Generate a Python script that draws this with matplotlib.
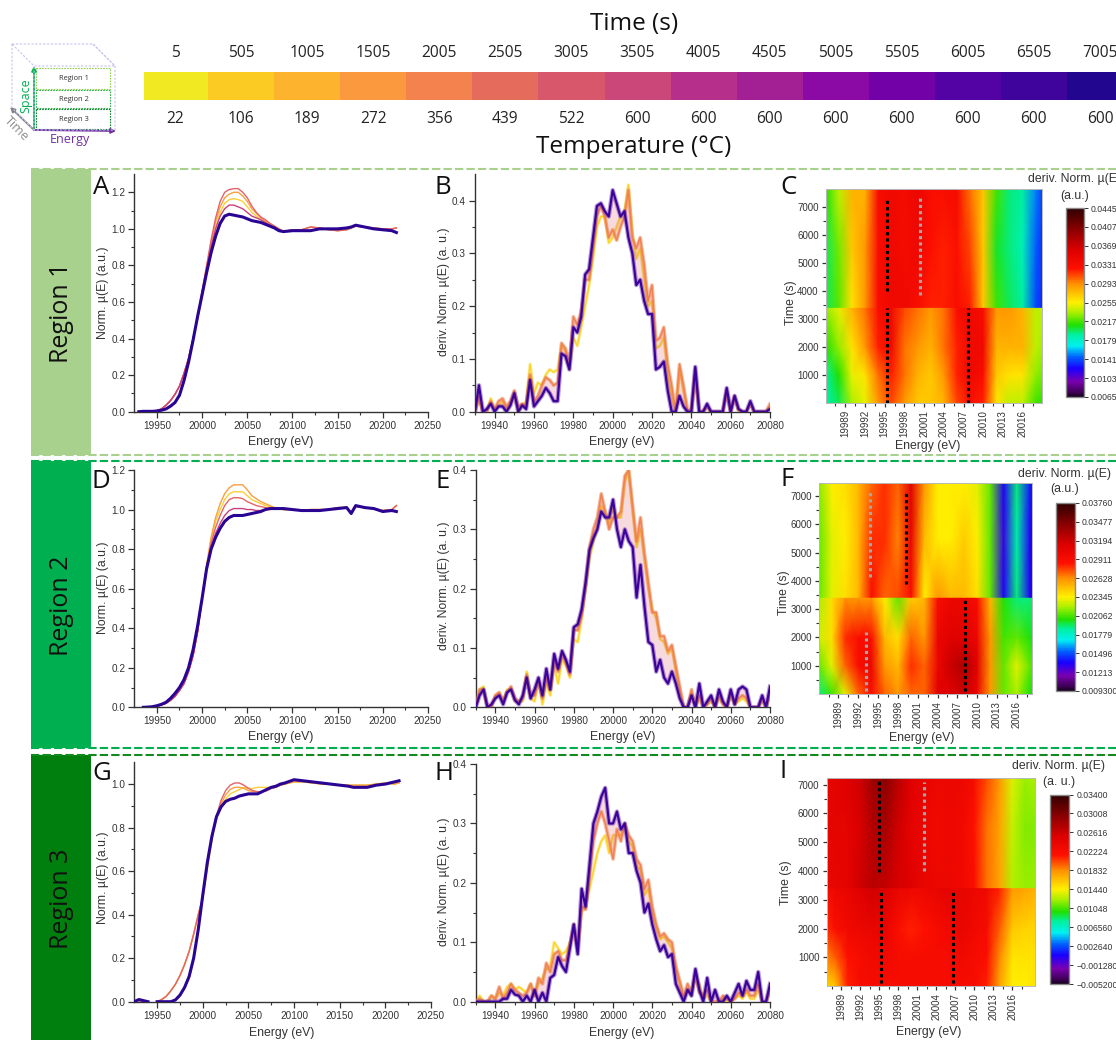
import numpy as np
import matplotlib
matplotlib.use("Agg")
import matplotlib.pyplot as plt
from matplotlib.colors import LinearSegmentedColormap, Normalize
from matplotlib.patches import Rectangle, FancyArrowPatch

W, H = 1116, 1040
SANS = "Liberation Sans"
HUM = "Open Sans"
INK = "#333333"

# ---------- header data ----------
TIME_LABELS = [5, 505, 1005, 1505, 2005, 2505, 3005, 3505, 4005, 4505, 5005, 5505, 6005, 6505, 7005]
TEMP_LABELS = [22, 106, 189, 272, 356, 439, 522, 600, 600, 600, 600, 600, 600, 600, 600]
BAR_COLORS = ["#f1e922", "#fccb23", "#fdb32e", "#fa993e", "#f3824f", "#e56c5d", "#d8576b", "#cb4679",
              "#b6308b", "#a21f94", "#8b0aa5", "#7201a8", "#5302a3", "#3e049c", "#220690"]
REGION_NAMES = ["Region 1", "Region 2", "Region 3"]
LETTERS = list("ABCDEFGHI")

# ---------- normalised absorption spectra ----------
E_HEAD = [19925, 19930, 19935, 19940, 19945, 19950, 19955, 19960, 19965, 19970, 19975, 19980, 19985, 19990, 19995]
E_EDGE = [20000, 20005, 20010, 20015, 20020, 20025, 20030, 20035, 20040, 20045, 20050, 20055, 20060, 20065, 20070, 20075, 20080, 20085]
E_TAIL = [20090, 20100, 20110, 20120, 20130, 20140, 20150, 20160, 20165, 20170, 20180, 20190, 20200, 20210, 20215]
n = np.nan

A_HEAD_LOW = [n, 0, .002, .002, .002, .004, .008, .015, .03, .05, .09, .17, .27, .39, .52]
A_HEAD_HIGH = [n, 0, .002, .002, .002, .006, .015, .035, .06, .095, .14, .21, .29, .40, .51]
A_TAIL_1 = [.985, .99, .99, .99, 1.0, 1.0, 1.0, 1.005, 1.01, 1.02, 1.01, 1.0, .995, .99, .98]
A_TAIL_2 = [.985, .995, .995, 1.01, 1.005, .995, .99, .995, 1.005, 1.015, 1.01, 1.005, 1.0, 1.0, 1.005]
A_YELLOW = [.62, .76, .90, 1.01, 1.09, 1.14, 1.16, 1.165, 1.16, 1.15, 1.12, 1.09, 1.07, 1.05, 1.04, 1.025, 1.01, 1.0]
A_ORANGE = [.65, .79, .92, 1.04, 1.12, 1.17, 1.19, 1.20, 1.20, 1.18, 1.15, 1.11, 1.085, 1.06, 1.045, 1.03, 1.015, 1.0]
A_RED = [.66, .80, .94, 1.06, 1.15, 1.20, 1.215, 1.22, 1.22, 1.20, 1.17, 1.125, 1.09, 1.065, 1.05, 1.03, 1.015, 1.0]
A_PINK = [.65, .78, .90, 1.0, 1.07, 1.11, 1.13, 1.13, 1.12, 1.11, 1.09, 1.07, 1.06, 1.05, 1.035, 1.02, 1.01, .995]
A_PURPLE = [.64, .76, .87, .96, 1.03, 1.07, 1.08, 1.075, 1.07, 1.065, 1.055, 1.045, 1.04, 1.035, 1.025, 1.015, 1.005, .99]

D_HEAD_LOW = [n, n, 0, .001, .003, .008, .015, .025, .045, .07, .10, .14, .20, .29, .41]
D_HEAD_HIGH = [n, n, 0, .001, .002, .005, .012, .02, .035, .055, .085, .12, .18, .26, .38]
D_TAIL_1 = [1.005, 1.0, .995, .995, .995, 1.0, 1.005, 1.01, .98, 1.02, 1.01, 1.005, .99, .995, .99]
D_TAIL_2 = [1.0, 1.0, .995, 1.0, 1.0, 1.0, 1.01, 1.01, .985, 1.015, 1.01, 1.005, .995, 1.0, 1.02]
D_YELLOW = [.54, .71, .85, .94, 1.0, 1.05, 1.08, 1.09, 1.09, 1.09, 1.07, 1.05, 1.04, 1.03, 1.02, 1.015, 1.01, 1.005]
D_ORANGE = [.545, .72, .86, .96, 1.03, 1.08, 1.11, 1.125, 1.125, 1.125, 1.10, 1.07, 1.055, 1.04, 1.03, 1.02, 1.01, 1.005]
D_RED = [.55, .71, .83, .91, .97, 1.02, 1.05, 1.06, 1.06, 1.055, 1.04, 1.03, 1.02, 1.015, 1.01, 1.005, 1.005, 1.005]
D_PINK = [.55, .70, .81, .88, .93, .97, .995, 1.005, 1.005, 1.005, 1.0, 1.0, .995, .995, 1.0, 1.0, 1.005, 1.005]
D_PURPLE = [.55, .70, .80, .86, .905, .94, .96, .97, .97, .97, .975, .98, .985, .99, 1.0, 1.005, 1.005, 1.005]

G_HEAD_LOW = [0, .01, .005, 0, n, 0, 0, 0, 0, .008, .03, .065, .115, .2, .33]
G_HEAD_HIGH = [0, .005, .002, 0, n, 0, .01, .025, .05, .08, .12, .17, .23, .31, .40]
G_TAIL_1 = [1.005, 1.02, 1.015, 1.01, 1.005, 1.0, .995, .99, .985, .985, .985, .995, 1.0, 1.01, 1.015]
G_TAIL_2 = [1.0, 1.01, 1.01, 1.005, 1.0, 1.0, .995, .995, .995, .995, .995, 1.0, 1.005, 1.0, 1.005]
G_YELLOW = [.47, .61, .74, .84, .90, .93, .955, .965, .975, .985, .98, .98, .985, .985, .985, .985, .99, .995]
G_ORANGE = [.475, .62, .75, .85, .91, .95, .975, .985, .985, .98, .97, .965, .965, .965, .97, .98, .985, .995]
G_RED = [.48, .63, .76, .855, .925, .97, .995, 1.005, 1.005, .995, .98, .97, .965, .965, .97, .98, .985, .995]
G_PURPLE = [.49, .64, .76, .85, .895, .92, .93, .935, .945, .95, .955, .955, .955, .965, .975, .985, .99, 1.0]

# ---------- first derivative, energy grid 19930..20080 in 2 eV steps ----------
E_DERIV = [19930, 19932, 19934, 19936, 19938, 19940, 19942, 19944, 19946, 19948,
           19950, 19952, 19954, 19956, 19958, 19960, 19962, 19964, 19966, 19968,
           19970, 19972, 19974, 19976, 19978, 19980, 19982, 19984, 19986, 19988,
           19990, 19992, 19994, 19996, 19998, 20000, 20002, 20004, 20006, 20008,
           20010, 20012, 20014, 20016, 20018, 20020, 20022, 20024, 20026, 20028,
           20030, 20032, 20034, 20036, 20038, 20040, 20042, 20044, 20046, 20048,
           20050, 20052, 20054, 20056, 20058, 20060, 20062, 20064, 20066, 20068,
           20070, 20072, 20074, 20076, 20078, 20080]

B_PURPLE = [0, .05, 0, .005, .015, 0, .01, .01, 0, .012,
            .035, 0, .012, .005, .06, .01, .02, .03, .045, .035,
            .02, .02, .11, .105, .08, .16, .15, .18, .26, .27,
            .33, .39, .395, .38, .37, .42, .395, .37, .38, .33,
            .30, .24, .25, .21, .185, .185, .08, .085, .095, .04,
            0, 0, .03, .01, 0, 0, .085, 0, 0, .015,
            0, 0, 0, 0, .045, 0, .03, .005, 0, 0,
            .02, 0, 0, 0, 0, .005]
B_ORANGE = [0, .03, 0, 0, .02, .005, .02, .025, .01, .02,
            .04, .01, .015, .01, .07, .02, .03, .05, .065, .06,
            .05, .055, .13, .12, .09, .18, .165, .19, .25, .25,
            .31, .37, .39, .37, .33, .345, .325, .35, .37, .42,
            .33, .31, .33, .28, .21, .24, .135, .14, .16, .09,
            .05, 0, .09, .05, .005, 0, .08, 0, 0, .01,
            0, 0, 0, 0, .04, 0, .03, .005, 0, 0,
            .015, 0, 0, 0, 0, .015]
B_YELLOW = [0, .02, 0, 0, .025, .005, .01, .02, .005, .015,
            .03, 0, .01, .02, .09, .035, .055, .05, .07, .08,
            .075, .08, .125, .115, .08, .14, .125, .16, .20, .24,
            .29, .35, .37, .37, .32, .33, .35, .37, .38, .43,
            .34, .29, .31, .25, .20, .21, .12, .125, .14, .07,
            .03, 0, .08, .04, 0, 0, .07, 0, 0, .008,
            0, 0, 0, 0, .035, 0, .025, 0, 0, 0,
            .015, 0, 0, 0, 0, .01]

E_PURPLE = [0, .02, .03, 0, .005, .015, .02, .005, .025, .03,
            .012, .005, .02, .05, .015, .03, .05, .02, .065, .03,
            .09, .065, .095, .08, .06, .135, .14, .165, .21, .265,
            .285, .30, .33, .32, .32, .35, .30, .27, .30, .28,
            .27, .185, .24, .17, .11, .105, .06, .08, .05, .04,
            .06, .04, .015, 0, 0, .02, 0, .04, 0, .01,
            .02, 0, .03, .01, 0, .03, .005, .03, .035, .03,
            0, 0, 0, .02, 0, .035]
E_ORANGE = [0, .03, .03, 0, 0, .02, .025, .01, .025, .035,
            .015, .01, .015, .055, .02, .02, .045, .015, .05, .03,
            .08, .06, .09, .075, .055, .13, .13, .155, .205, .27,
            .30, .32, .36, .33, .30, .32, .32, .33, .39, .40,
            .34, .28, .32, .26, .21, .16, .16, .12, .12, .095,
            .105, .07, .035, 0, 0, .03, 0, .02, 0, .005,
            .015, 0, .02, .005, 0, .025, .005, .015, .02, .015,
            0, 0, 0, .015, 0, .025]
E_YELLOW = [0, .03, .035, 0, 0, .02, .025, .01, .03, .03,
            .01, .01, .01, .06, .015, .01, .045, .005, .04, .02,
            .07, .04, .08, .07, .05, .115, .11, .15, .20, .25,
            .28, .30, .34, .33, .31, .34, .32, .32, .38, .40,
            .33, .27, .30, .25, .20, .165, .15, .115, .11, .09,
            .10, .06, .03, 0, 0, .025, 0, .015, 0, .005,
            .01, 0, .015, .005, 0, .02, .005, .01, .015, .01,
            0, 0, 0, .01, 0, .02]

H_PURPLE = [0, 0, 0, 0, 0, 0, 0, .005, .005, .02,
            .012, .01, 0, .01, 0, .02, 0, .015, 0, .04,
            .045, .075, .06, .05, .09, .13, .08, .19, .16, .23,
            .30, .32, .345, .36, .30, .30, .32, .29, .30, .25,
            .25, .22, .20, .15, .165, .13, .105, .085, .095, .075,
            .08, .03, .015, 0, .02, .01, .055, .02, 0, .04,
            0, .02, 0, 0, .01, 0, .015, .03, .01, .035,
            .02, .02, .05, 0, 0, .03]
H_ORANGE = [0, .005, 0, 0, .01, .005, .025, .005, .015, .03,
            .02, .015, .01, .015, .03, .01, .04, .03, .065, .05,
            .08, .085, .07, .07, .095, .13, .085, .16, .155, .21,
            .27, .30, .32, .30, .27, .24, .29, .27, .30, .28,
            .27, .24, .23, .19, .205, .16, .13, .11, .115, .105,
            .10, .06, .035, .01, .03, .015, .05, .015, .01, .02,
            0, 0, 0, .01, .005, 0, .005, .015, .01, .02,
            .01, .01, .03, 0, 0, .02]
H_YELLOW = [0, .01, 0, 0, .01, .005, .015, .01, .025, .03,
            .02, .025, .02, .015, .03, .01, .03, .04, .055, .06,
            .10, .09, .08, .085, .10, .12, .09, .15, .16, .19,
            .22, .25, .27, .28, .25, .28, .28, .28, .30, .27,
            .26, .23, .22, .18, .19, .15, .125, .105, .11, .10,
            .09, .055, .03, .005, .02, .01, .04, .03, .005, .01,
            0, 0, 0, .005, 0, 0, .005, .01, .005, .015,
            .005, .005, .02, 0, 0, .015]

# ---------- heat maps: rows below and above the step near 3400 s ----------
E_HEAT = [19986, 19988, 19990, 19992, 19994, 19996, 19998, 20000, 20002, 20004, 20006, 20008, 20010, 20012, 20014, 20016, 20018, 20020]

C_T_PRE = [5, 1000, 2000, 3420]
C_PRE = [[.0185, .020, .0235, .025, .029, .031, .029, .027, .027, .028, .031, .033, .032, .026, .024, .024, .0215, .021],
         [.019, .021, .025, .026, .030, .032, .030, .028, .027, .029, .032, .034, .033, .027, .026, .026, .023, .022],
         [.021, .023, .026, .029, .032, .034, .030, .029, .028, .030, .032, .034, .034, .028, .028, .028, .024, .023],
         [.023, .025, .028, .030, .033, .034, .031, .030, .029, .030, .033, .034, .033, .029, .029, .028, .024, .024]]
C_T_POST = [3420, 5500, 7655]
C_POST = [[.020, .022, .026, .029, .033, .034, .034, .033, .032, .032, .033, .032, .027, .0215, .020, .019, .014, .012],
          [.020, .0225, .027, .029, .033, .034, .0335, .034, .0325, .032, .0325, .031, .027, .0205, .0195, .0185, .0145, .012],
          [.021, .024, .028, .028, .033, .034, .0335, .0345, .033, .033, .0335, .030, .027, .0215, .0195, .019, .015, .012]]
C_TICKS = [.0445, .0407, .0369, .0331, .0293, .0255, .0217, .0179, .0141, .0103, .0065]
C_TICKLABELS = ["0.04450", "0.04070", "0.03690", "0.03310", "0.02930", "0.02550", "0.02170", "0.01790", "0.01410", "0.01030", "0.00650"]
C_GUIDES = [(19995.3, 5, 3400, "k"), (19995.3, 4000, 7350, "k"), (20000.3, 3850, 7400, "#a6a6a6"), (20007.7, 5, 3400, "k")]

F_T_PRE = [5, 1000, 2000, 3420]
F_PRE = [[.019, .0205, .023, .027, .029, .027, .026, .027, .027, .031, .031, .032, .030, .026, .021, .022, .020, .019],
         [.021, .023, .027, .029, .030, .026, .025, .028, .027, .030, .032, .033, .031, .026, .021, .023, .021, .020],
         [.0225, .024, .028, .029, .029, .025, .024, .027, .026, .030, .031, .031, .030, .026, .0205, .021, .020, .019],
         [.022, .024, .026, .026, .026, .0235, .021, .0245, .025, .029, .030, .030, .029, .025, .020, .019, .019, .018]]
F_T_POST = [3420, 5500, 7449]
F_POST = [[.021, .023, .024, .025, .029, .027, .0275, .029, .0235, .026, .025, .025, .024, .021, .0135, .019, .0135, .012],
          [.021, .023, .0235, .025, .028, .028, .0265, .0305, .025, .0235, .0235, .0245, .0235, .021, .013, .0185, .0135, .012],
          [.0215, .0235, .024, .025, .027, .028, .027, .031, .026, .0235, .0235, .0235, .023, .021, .0135, .019, .014, .0125]]
F_TICKS = [.0376, .03477, .03194, .02911, .02628, .02345, .02062, .01779, .01496, .01213, .0093]
F_TICKLABELS = ["0.03760", "0.03477", "0.03194", "0.02911", "0.02628", "0.02345", "0.02062", "0.01779", "0.01496", "0.01213", "0.009300"]
F_GUIDES = [(19999.2, 3900, 7150, "k"), (19993.7, 4150, 7200, "#a6a6a6"), (19993.1, 100, 2200, "#a6a6a6"), (20008.1, 100, 3400, "k")]

I_T_PRE = [5, 1000, 2000, 3420]
I_PRE = [[.0155, .016, .021, .0225, .0225, .0225, .0225, .0225, .0225, .0225, .0225, .0225, .0225, .021, .0175, .0145, .0145, .015],
         [.018, .0195, .0215, .0225, .023, .023, .0225, .0225, .0225, .0225, .0225, .023, .0225, .022, .0185, .015, .015, .015],
         [.0205, .022, .023, .0235, .024, .024, .022, .021, .0215, .0225, .023, .024, .023, .0225, .0195, .016, .0155, .0155],
         [.0225, .0235, .024, .025, .026, .025, .024, .0235, .0235, .024, .0245, .024, .0235, .023, .021, .018, .0175, .017]]
I_T_POST = [3420, 5500, 7233]
I_POST = [[.024, .024, .0245, .026, .027, .0265, .0255, .025, .024, .0235, .0235, .023, .022, .019, .0175, .0125, .012, .012],
          [.024, .0245, .0245, .0255, .0275, .028, .026, .0245, .0235, .023, .0235, .023, .0215, .019, .0175, .013, .0115, .0115],
          [.024, .0245, .025, .026, .0285, .0295, .027, .025, .024, .0235, .0235, .0235, .0225, .020, .018, .0135, .012, .0125]]
I_TICKS = [.034, .03008, .02616, .02224, .01832, .0144, .01048, .00656, .00264, -.00128, -.0052]
I_TICKLABELS = ["0.03400", "0.03008", "0.02616", "0.02224", "0.01832", "0.01440", "0.01048", "0.006560", "0.002640", "\u22120.001280", "\u22120.005200"]
I_GUIDES = [(19995.0, 3950, 7200, "k"), (20002.0, 4000, 7100, "#a6a6a6"), (19995.3, 100, 3350, "k"), (20006.6, 100, 3350, "k")]

HEAT_XTICKS = [19989, 19992, 19995, 19998, 20001, 20004, 20007, 20010, 20013, 20016]
HEAT_YTICKS = [1000, 2000, 3000, 4000, 5000, 6000, 7000]

# ---------- figure ----------
plt.rcParams["font.family"] = [SANS, "DejaVu Sans"]
plt.rcParams["axes.edgecolor"] = INK
plt.rcParams["xtick.color"] = INK
plt.rcParams["ytick.color"] = INK
fig = plt.figure(figsize=(W / 100, H / 100), dpi=100, facecolor="white")


def px_axes(l, t, r, b, **kw):
    return fig.add_axes([l / W, 1 - b / H, (r - l) / W, (b - t) / H], **kw)


page = fig.add_axes([0, 0, 1, 1], zorder=20)
page.set_xlim(0, W)
page.set_ylim(H, 0)
page.axis("off")
page.patch.set_alpha(0)

# colour strip with its two rows of labels
strip = px_axes(144, 72, 1116, 100)
strip.bar(range(len(BAR_COLORS)), 1, width=1.0, color=BAR_COLORS, linewidth=0)
strip.set_xlim(-0.469, 14.24)
strip.set_ylim(0, 1)
strip.axis("off")
for i, (tm, tp) in enumerate(zip(TIME_LABELS, TEMP_LABELS)):
    px = 175 + 66.07 * i
    page.text(px, 53, str(tm), ha="center", va="center", family=HUM, fontsize=11.2, color="#222222")
    page.text(px, 119, str(tp), ha="center", va="center", family=HUM, fontsize=11.2, color="#222222")
page.text(634, 24, "Time (s)", ha="center", va="center", family=HUM, fontsize=17.5, color="#111111")
page.text(634, 147, "Temperature (\u00b0C)", ha="center", va="center", family=HUM, fontsize=17.5, color="#111111")

# cube sketch
lav = "#c4c2f2"
for pts in [[(12, 44), (93, 44), (115, 66), (34, 66), (12, 44)], [(12, 44), (12, 108), (34, 130)],
            [(93, 44), (115, 66), (115, 130), (34, 130), (34, 66)]]:
    xs, ys = zip(*pts)
    page.plot(xs, ys, color=lav, lw=0.8, ls=(0, (2, 1.5)))
for (top, bot, col), name in zip([(68, 89, "#92d050"), (90, 108, "#33b04f"), (109, 129, "#0d7f2c")], REGION_NAMES):
    page.add_patch(Rectangle((36, top), 74, bot - top, fill=False, ec=col, lw=0.8, ls=(0, (1.5, 1))))
    page.text(73.5, (top + bot) / 2 + 0.5, name, ha="center", va="center", family=HUM, fontsize=5.4, color="#333333")
for start, end, col in [((34, 130), (34, 66), "#00b050"), ((34, 130), (116, 131), "#7030a0"), ((34, 130), (10, 107), "#7f7f7f")]:
    page.add_patch(FancyArrowPatch(start, end, arrowstyle="-|>", mutation_scale=7, lw=1.3, color=col, shrinkA=0, shrinkB=0))
page.text(26, 96, "Space", rotation=90, ha="center", va="center", family=HUM, fontsize=9, color="#00b050")
page.text(70, 139, "Energy", ha="center", va="center", family=HUM, fontsize=9, color="#7030a0")
page.text(17, 129, "Time", rotation=-45, ha="center", va="center", family=HUM, fontsize=9, color="#8c8c8c")

# region banners and dashed separators
BANNERS = [(169, 455, "#a9d18e", "#a9d18e"), (461, 748, "#00b050", "#00b050"), (755, 1040, "#007f0e", "#128a1e")]
for (top, bot, fillc, linec), name in zip(BANNERS, REGION_NAMES):
    page.add_patch(Rectangle((31, top), 60, bot - top, fc=fillc, ec="none"))
    page.plot([31, W], [top, top], color=linec, lw=1.5, ls=(0, (4, 1.5)))
    if bot < H:
        page.plot([31, W], [bot, bot], color=linec, lw=1.5, ls=(0, (4, 1.5)))
    page.text(62, (top + bot) / 2 + 1, name, rotation=90, ha="center", va="center", family=HUM, fontsize=18, color="#111111")

LETTER_POS = [(101, 187), (443, 187), (788, 187), (101, 482), (443, 481), (787, 479), (102, 774), (444, 773), (783, 771)]
for let, (x, y) in zip(LETTERS, LETTER_POS):
    page.text(x, y, let, ha="center", va="center", family=HUM, fontsize=18.5, color="#111111")


def style_axis(ax, xlab, ylab, xp, yp):
    for s in ("top", "right"):
        ax.spines[s].set_visible(False)
    for s in ("left", "bottom"):
        ax.spines[s].set_linewidth(1.0)
    ax.tick_params(axis="both", which="major", length=4, width=0.9, labelsize=7.2, pad=2.5)
    ax.tick_params(axis="both", which="minor", length=2.3, width=0.8)
    ax.set_xlabel(xlab, fontsize=8.8, color=INK, ha="center", va="center")
    ax.set_ylabel(ylab, fontsize=8.8, color=INK, ha="center", va="center")
    ax.xaxis.set_label_coords(xp[0], xp[1], transform=page.transData)
    ax.yaxis.set_label_coords(yp[0], yp[1], transform=page.transData)


E_FULL = np.array(E_HEAD + E_EDGE + E_TAIL, float)


def spectrum_panel(box, xp, yp, ylim, yticks, yminor, head_low, head_high, tail_1, tail_2, curves):
    ax = px_axes(*box)
    last = len(curves) - 1
    for i, (vals, col) in enumerate(curves):
        head = head_low if i == last else head_high
        tail = tail_1 if i in (last, last - 1) else tail_2
        y = np.array(head + vals + tail, float)
        ax.plot(E_FULL, y, color=col, lw=2.2 if i == last else 1.0, solid_joinstyle="round", zorder=3 + i)
    ax.set_xlim(19925, 20250)
    ax.set_ylim(*ylim)
    ax.set_xticks([19950, 20000, 20050, 20100, 20150, 20200, 20250])
    ax.set_xticks(np.arange(19950, 20250, 25), minor=True)
    ax.set_yticks(yticks)
    ax.set_yticks(yminor, minor=True)
    style_axis(ax, "Energy (eV)", "Norm. \u00b5(E) (a.u.)", xp, yp)
    return ax


def deriv_panel(box, xp, yp, ylim, yticks, yminor, yellow, orange, purple):
    ax = px_axes(*box)
    ex = np.array(E_DERIV, float)
    ax.plot(ex, yellow, color="#fbd524", lw=2.2, alpha=0.55, zorder=2)
    ax.plot(ex, yellow, color="#fbd524", lw=0.9, zorder=3)
    ax.fill_between(ex, orange, purple, color="#d8576b", alpha=0.22, lw=0, zorder=3)
    ax.plot(ex, orange, color="#f0804f", lw=2.6, alpha=0.55, zorder=4)
    ax.plot(ex, orange, color="#f0804f", lw=1.0, zorder=5)
    ax.plot(ex, purple, color="#6a1fa8", lw=3.2, alpha=0.45, zorder=6)
    ax.plot(ex, purple, color="#3a049a", lw=1.6, zorder=7)
    ax.set_xlim(19930, 20080)
    ax.set_ylim(*ylim)
    ax.set_xticks(np.arange(19940, 20081, 20))
    ax.set_xticks(np.arange(19930, 20081, 10), minor=True)
    ax.set_yticks(yticks)
    ax.set_yticks(yminor, minor=True)
    style_axis(ax, "Energy (eV)", "deriv. Norm. \u00b5(E) (a. u.)", xp, yp)
    return ax


PAL_Y, PAL_O, PAL_R, PAL_P, PAL_U = "#fbd03a", "#f9a040", "#e4636a", "#c8417f", "#2a0594"
yt = [0, .2, .4, .6, .8, 1.0, 1.2]
spectrum_panel((134.3, 174, 428, 411.7), (281, 442), (103, 293), (0, 1.3), yt, np.arange(0.1, 1.3, .2), A_HEAD_LOW, A_HEAD_HIGH, A_TAIL_1, A_TAIL_2,
               [(A_YELLOW, PAL_Y), (A_ORANGE, PAL_O), (A_RED, PAL_R), (A_PINK, PAL_P), (A_PURPLE, PAL_U)])
spectrum_panel((134.3, 470, 428, 707.3), (281, 737), (103, 588), (0, 1.2), yt, np.arange(0.1, 1.2, .2), D_HEAD_LOW, D_HEAD_HIGH, D_TAIL_1, D_TAIL_2,
               [(D_YELLOW, PAL_Y), (D_ORANGE, PAL_O), (D_RED, PAL_R), (D_PINK, PAL_P), (D_PURPLE, PAL_U)])
spectrum_panel((134.3, 762.3, 431, 1001.7), (282, 1032.7), (103, 878), (0, 1.1), yt[:-1], np.arange(0.1, 1.1, .2), G_HEAD_LOW, G_HEAD_HIGH, G_TAIL_1, G_TAIL_2,
               [(G_YELLOW, PAL_Y), (G_ORANGE, PAL_O), (G_RED, PAL_R), (G_PURPLE, PAL_U)])

dt = [0, .1, .2, .3, .4]
deriv_panel((475, 174.3, 770, 411.7), (622, 442), (444, 292), (0, .45), dt, np.arange(.05, .45, .1), B_YELLOW, B_ORANGE, B_PURPLE)
deriv_panel((475.7, 470, 770, 707.3), (623, 737), (444, 586), (0, .4), dt, np.arange(.05, .4, .1), E_YELLOW, E_ORANGE, E_PURPLE)
deriv_panel((475.7, 764, 770, 1001.7), (622, 1032.7), (444, 882), (0, .4), dt, np.arange(.05, .4, .1), H_YELLOW, H_ORANGE, H_PURPLE)

RAINBOW = LinearSegmentedColormap.from_list("origin_rainbow", [
    (0.0, "#12001a"), (0.02, "#3a0050"), (0.08, "#7a00b0"), (0.15, "#1a00ff"), (0.21, "#0060ff"),
    (0.27, "#00f0f0"), (0.33, "#00f0a0"), (0.38, "#20e000"), (0.45, "#b0f000"), (0.5, "#fff000"),
    (0.6, "#ff9000"), (0.68, "#ff1000"), (0.78, "#dc0000"), (0.88, "#900000"), (0.96, "#500000"), (1.0, "#300000")])


def heat_panel(box, tbottom, ttop, xlim, t_pre, pre, t_post, post, ticks, labels, guides, cbox,
               xp, yp, lab_xy, lab2, lab2_xy):
    ax = px_axes(*box)
    norm = Normalize(min(ticks), max(ticks))
    ex = np.array(E_HEAT, float)
    for tt, grid in ((t_pre, pre), (t_post, post)):
        mesh = ax.pcolormesh(ex, np.array(tt, float), np.array(grid), cmap=RAINBOW, norm=norm, shading="gouraud", rasterized=True)
    for x, t0, t1, col in guides:
        ax.plot([x, x], [t0, t1], color=col, lw=2.25, ls=(0, (1, 1)), solid_capstyle="butt", zorder=5)
    ax.set_xlim(*xlim)
    ax.set_ylim(tbottom, ttop)
    ax.set_xticks(HEAT_XTICKS)
    ax.set_xticks(np.arange(19987.5, 20019, 3), minor=True)
    ax.set_yticks(HEAT_YTICKS)
    ax.set_yticks(np.arange(500, 7001, 1000), minor=True)
    style_axis(ax, "Energy (eV)", "Time (s)", xp, yp)
    ax.tick_params(axis="both", which="major", length=3.2, labelsize=7.0, pad=2)
    ax.tick_params(axis="x", which="major", labelrotation=90)
    for s in ax.spines.values():
        s.set_visible(True)
        s.set_linewidth(0.7)
        s.set_color("#b8b8b8")
    cax = px_axes(*cbox)
    cb = fig.colorbar(mesh, cax=cax)
    cb.set_ticks(ticks)
    cb.set_ticklabels(labels)
    cb.ax.tick_params(length=3, width=0.7, labelsize=6.2, pad=2, colors=INK)
    cb.ax.minorticks_off()
    cb.outline.set_edgecolor("#8a8a8a")
    cb.outline.set_linewidth(1.0)
    page.text(lab_xy[0], lab_xy[1], "deriv. Norm. \u00b5(E)", ha="center", va="center", fontsize=8.8, color=INK)
    page.text(lab2_xy[0], lab2_xy[1], lab2, ha="center", va="center", fontsize=8.8, color=INK)


heat_panel((826, 189, 1041.7, 402.8), 5, 7655, (19986.06, 20018.9), C_T_PRE, C_PRE, C_T_POST, C_POST, C_TICKS, C_TICKLABELS, C_GUIDES,
           (1066, 208, 1084, 397), (928, 446.5), (791, 303), (1074.5, 179), "(a.u.)", (1075, 195.7))
heat_panel((819.3, 483.3, 1032, 693.8), 5, 7449, (19986.1, 20018.3), F_T_PRE, F_PRE, F_T_POST, F_POST, F_TICKS, F_TICKLABELS, F_GUIDES,
           (1056, 503, 1075, 691), (922, 738), (784, 593), (1065, 474), "(a.u.)", (1065, 489))
heat_panel((826.7, 778, 1035, 985.9), 5, 7233, (19986.7, 20019.6), I_T_PRE, I_PRE, I_T_POST, I_POST, I_TICKS, I_TICKLABELS, I_GUIDES,
           (1050.3, 794.5, 1069.3, 984), (929, 1032), (786, 883), (1059, 765.7), "(a. u.)", (1059, 782))

fig.savefig("out.png", dpi=100)
